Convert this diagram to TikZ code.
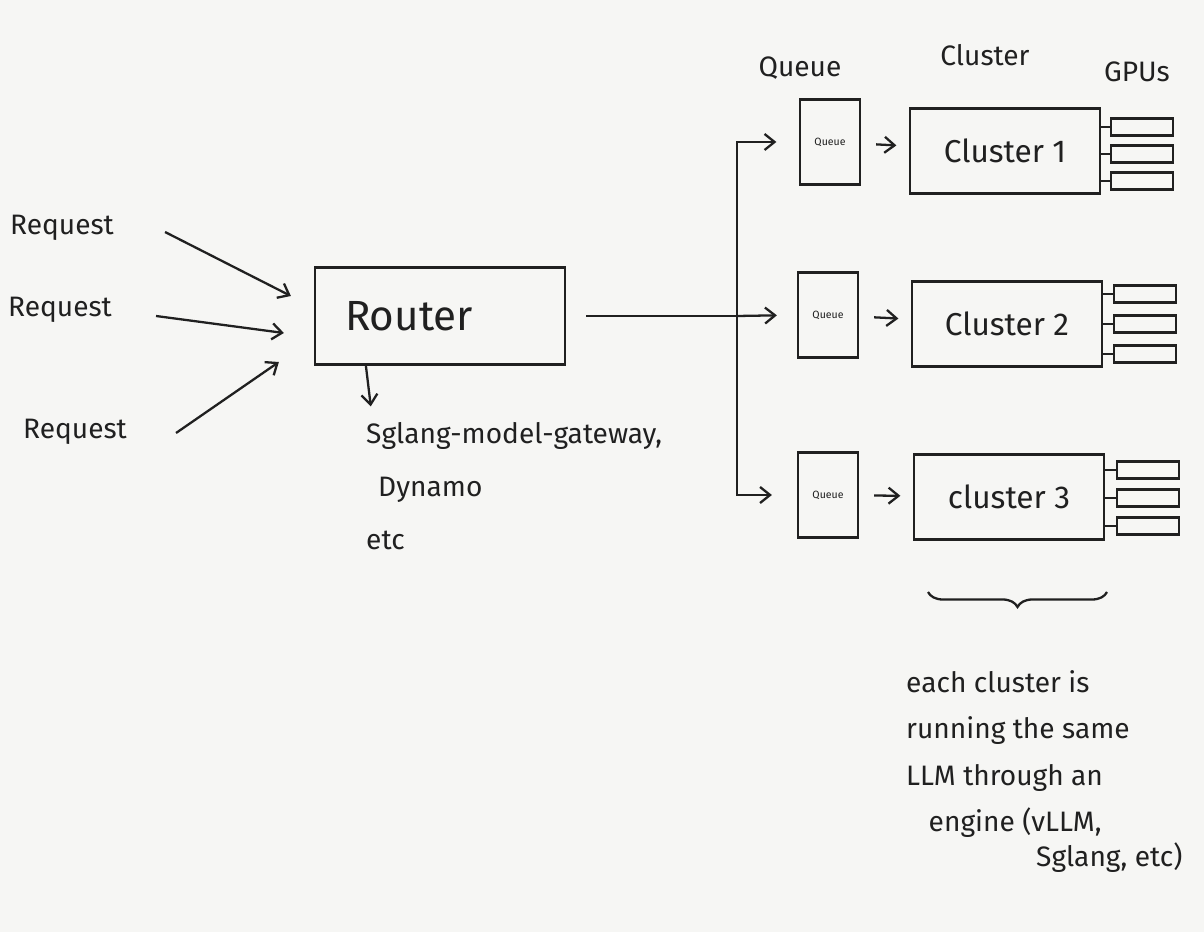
\documentclass[tikz,border=0pt]{standalone}
\usepackage{fontspec}
\setmainfont{Fira Sans}
\usepackage{tikz}
\usetikzlibrary{calc}
\usetikzlibrary{arrows.meta,decorations.pathreplacing}
\definecolor{ink}{RGB}{32,32,32}
\definecolor{paper}{RGB}{246,246,244}
\tikzset{routerbox/.style={draw=ink, line width=1.3pt, text=ink,
    minimum width=5cm, minimum height=1.94cm,
    text width=3.8cm, align=left,
    font=\fontsize{24}{28}\selectfont},
  clusterbox/.style={draw=ink, line width=1.3pt, text=ink,
    minimum width=3.8cm, minimum height=1.7cm,
    font=\fontsize{18}{22}\selectfont},
  queuebox/.style={draw=ink, line width=1.3pt, text=ink,
    minimum width=1.2cm, minimum height=1.7cm, inner sep=1pt,
    font=\fontsize{6}{7}\selectfont},
  gpubox/.style={draw=ink, line width=1.3pt,
    minimum width=1.24cm, minimum height=0.34cm, inner sep=0pt},
  hand/.style={text=ink, font=\fontsize{16}{19}\selectfont},
  flow/.style={draw=ink, line width=1.3pt, -{Straight Barb[length=2mm,width=3.2mm]}},
  link/.style={draw=ink, line width=1.3pt}}
\begin{document}
\begin{tikzpicture}[x=0.02cm, y=-0.02cm]
\fill[paper] (0,0) rectangle (1204,932);
\useasboundingbox (0,0) rectangle (1204,932);

%%% entree

% requests
\node[hand] (req1) at (62,228) {Request};
\node[hand] (req2) at (60,310) {Request};
\node[hand] (req3) at (75,432) {Request};

% router
\node[routerbox] (router) at (440,316) {Router};
\node[hand, anchor=west] (gateway) at (360,436) {Sglang-model-gateway,};
\node[hand, anchor=west] (dynamo) at (372,490) {Dynamo};
\node[hand, anchor=west] (etc) at (360,540) {etc};

%%% colonnes

\node[hand] (qhead) at (800,68) {Queue};
\node[hand] (chead) at (985,55) {Cluster};
\node[hand] (ghead) at (1137,72) {GPUs};

% queues
\node[queuebox] (queue1) at (830,142) {Queue};
\node[queuebox] (queue2) at (828,315) {Queue};
\node[queuebox] (queue3) at (828,495) {Queue};

% clusters
\node[clusterbox] (cluster1) at (1005,151) {Cluster 1};
\node[clusterbox] (cluster2) at (1007,324) {Cluster 2};
\node[clusterbox] (cluster3) at (1009,497) {cluster 3};

% gpus
\node[gpubox] (gpu11) at (1142,127) {};
\node[gpubox] (gpu12) at (1142,154) {};
\node[gpubox] (gpu13) at (1142,181) {};
\node[gpubox] (gpu21) at (1145,294) {};
\node[gpubox] (gpu22) at (1145,324) {};
\node[gpubox] (gpu23) at (1145,354) {};
\node[gpubox] (gpu31) at (1148,470) {};
\node[gpubox] (gpu32) at (1148,498) {};
\node[gpubox] (gpu33) at (1148,526) {};

%%% liens

\draw[flow] ($(req1.east)+(45,4)$) -- ($(router.west)+(-23,-20)$);
\draw[flow] ($(req2.east)+(38,6)$) -- ($(router.west)+(-30,17)$);
\draw[flow] ($(req3.east)+(43,1)$) -- ($(router.west)+(-35,46)$);
\draw[flow, shorten >=0.2cm] ($(router.south west)+(52,0)$) -- ($(gateway.north west)+(12,0)$);

\coordinate (bus) at (737,316);
\draw[link, shorten <=0.4cm] (router.east) -- (bus);
\draw[flow, shorten >=0.45cm] (bus) |- (queue1.west);
\draw[flow, shorten >=0.4cm] (bus) -- (queue2.west);
\draw[flow, shorten >=0.5cm] (bus) |- (queue3.west);

\draw[flow, shorten <=0.3cm, shorten >=0.25cm] (queue1) -- (cluster1);
\draw[flow, shorten <=0.3cm, shorten >=0.25cm] (queue2) -- (cluster2);
\draw[flow, shorten <=0.3cm, shorten >=0.25cm] (queue3) -- (cluster3);

\draw[link] (gpu11.west) -- (cluster1.east |- gpu11.west);
\draw[link] (gpu12.west) -- (cluster1.east |- gpu12.west);
\draw[link] (gpu13.west) -- (cluster1.east |- gpu13.west);
\draw[link] (gpu21.west) -- (cluster2.east |- gpu21.west);
\draw[link] (gpu22.west) -- (cluster2.east |- gpu22.west);
\draw[link] (gpu23.west) -- (cluster2.east |- gpu23.west);
\draw[link] (gpu31.west) -- (cluster3.east |- gpu31.west);
\draw[link] (gpu32.west) -- (cluster3.east |- gpu32.west);
\draw[link] (gpu33.west) -- (cluster3.east |- gpu33.west);

%%% note

\coordinate (bl) at (928,592);
\coordinate (br) at (1107,592);
\draw[link, decorate, decoration={brace, mirror, amplitude=0.3cm}] (bl) -- (br);
\node[hand, anchor=north west, align=left, font=\fontsize{16}{26.5}\selectfont] (note) at (900,664)
  {each cluster is\\running the same\\LLM through an\\\hspace*{0.45cm}engine (vLLM,\\[-0.24cm]\hspace*{2.6cm}Sglang, etc)};
\end{tikzpicture}
\end{document}
